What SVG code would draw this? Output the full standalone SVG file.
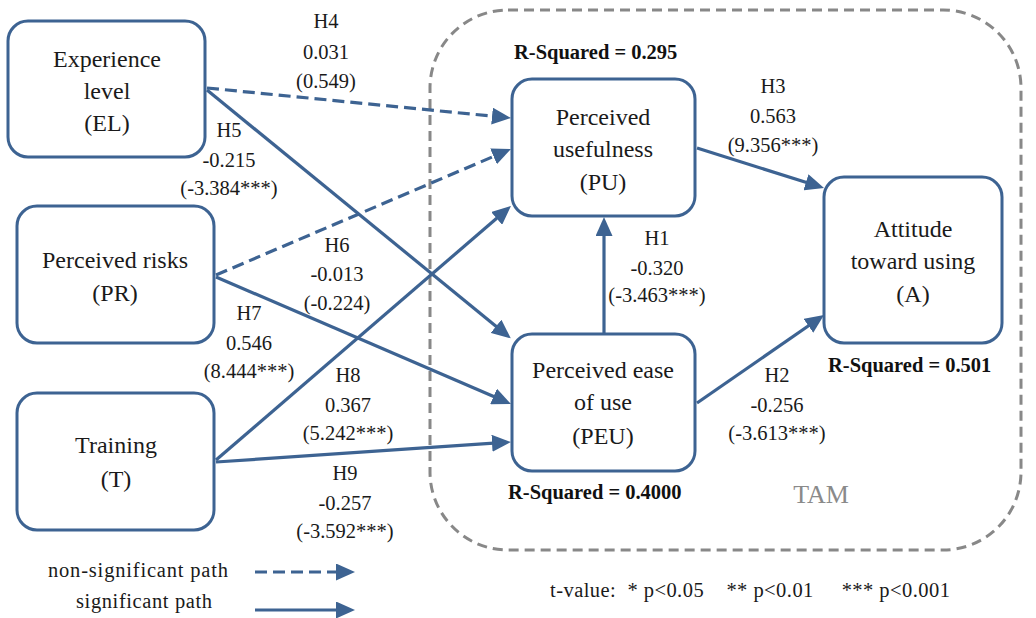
<svg xmlns="http://www.w3.org/2000/svg" width="1036" height="618" viewBox="0 0 1036 618">
<style>
text{font-family:"Liberation Serif","Times New Roman",Times,"DejaVu Serif",serif}
.box{fill:#fff;stroke:#3d6392;stroke-width:3}
.bt{font-size:24px;fill:#1a1a1a;text-anchor:middle}
.lb{font-size:20.5px;fill:#1a1a1a;text-anchor:middle}
.rs{font-size:20.5px;font-weight:bold;fill:#111}
.ln{fill:none;stroke:#3d6392;stroke-width:3.2;marker-end:url(#ah)}
.dash{stroke-dasharray:12 6}
</style>
<defs>
<marker id="ah" markerUnits="userSpaceOnUse" markerWidth="19" markerHeight="17" viewBox="0 0 19 17" refX="9" refY="8.5" orient="auto">
<path d="M0,0 L19,8.5 L0,17 Z" fill="#3d6392"/>
</marker>
</defs>
<rect x="430" y="10" width="591" height="540" rx="78" fill="none" stroke="#888" stroke-width="3" stroke-dasharray="10 6"/>
<text x="821" y="503" font-size="26" fill="#8a8a8a" text-anchor="middle">TAM</text>
<g id="connectors">
<path class="ln dash" d="M207,88 L501,117"/>
<path class="ln" d="M207,90 L503,332"/>
<path class="ln dash" d="M216,275 L501.8,152.9"/>
<path class="ln" d="M216,277 L501.8,400"/>
<path class="ln" d="M216,460 L503.4,212.5"/>
<path class="ln" d="M216,462 L501,442.7"/>
<path class="ln" d="M604,333 L604,227"/>
<path class="ln" d="M697,148 L814.5,185"/>
<path class="ln" d="M697,403 L815.8,320.7"/>
<path class="ln dash" d="M255,572 L345,572"/>
<path class="ln" d="M255,610 L345,610"/>
</g>
<g id="labels">
<text class="lb" x="326" y="28">H4</text><text class="lb" x="326" y="59">0.031</text><text class="lb" x="326" y="88">(0.549)</text>
<text class="lb" x="229" y="137">H5</text><text class="lb" x="229" y="167">-0.215</text><text class="lb" x="229" y="195">(-3.384***)</text>
<text class="lb" x="337" y="252">H6</text><text class="lb" x="337" y="281">-0.013</text><text class="lb" x="337" y="310">(-0.224)</text>
<text class="lb" x="249" y="320">H7</text><text class="lb" x="249" y="350">0.546</text><text class="lb" x="249" y="378">(8.444***)</text>
<text class="lb" x="348" y="382">H8</text><text class="lb" x="348" y="412">0.367</text><text class="lb" x="348" y="440">(5.242***)</text>
<text class="lb" x="345" y="480">H9</text><text class="lb" x="345" y="510">-0.257</text><text class="lb" x="345" y="538">(-3.592***)</text>
<text class="lb" x="773" y="93">H3</text><text class="lb" x="773" y="123">0.563</text><text class="lb" x="773" y="152">(9.356***)</text>
<text class="lb" x="657" y="245">H1</text><text class="lb" x="657" y="275">-0.320</text><text class="lb" x="657" y="302">(-3.463***)</text>
<text class="lb" x="777" y="382">H2</text><text class="lb" x="777" y="412">-0.256</text><text class="lb" x="777" y="440">(-3.613***)</text>
<text class="rs" x="514" y="59">R-Squared = 0.295</text>
<text class="rs" x="828" y="372">R-Squared = 0.501</text>
<text class="rs" x="508" y="499">R-Squared = 0.4000</text>
<text class="lb" x="48" y="577" style="text-anchor:start" textLength="180" lengthAdjust="spacing">non-significant path</text>
<text class="lb" x="76" y="608" style="text-anchor:start" textLength="136" lengthAdjust="spacing">significant path</text>
<text class="lb" x="550" y="597" style="text-anchor:start" xml:space="preserve" textLength="400" lengthAdjust="spacing">t-value:  * p&lt;0.05    ** p&lt;0.01     *** p&lt;0.001</text>
</g>
<g id="node-EL">
<rect class="box" x="8" y="21" width="197" height="136" rx="20"/>
<text class="bt" x="107" y="67">Experience</text><text class="bt" x="107" y="99">level</text><text class="bt" x="107" y="131">(EL)</text>
</g>
<g id="node-PR">
<rect class="box" x="17" y="206" width="197" height="137" rx="20"/>
<text class="bt" x="115" y="268">Perceived risks</text><text class="bt" x="115" y="301">(PR)</text>
</g>
<g id="node-T">
<rect class="box" x="17" y="393" width="197" height="137" rx="20"/>
<text class="bt" x="116" y="453">Training</text><text class="bt" x="116" y="487">(T)</text>
</g>
<g id="node-PU">
<rect class="box" x="512" y="79" width="183" height="137" rx="20"/>
<text class="bt" x="603" y="125">Perceived</text><text class="bt" x="603" y="157">usefulness</text><text class="bt" x="603" y="190">(PU)</text>
</g>
<g id="node-PEU">
<rect class="box" x="512" y="334" width="183" height="137" rx="20"/>
<text class="bt" x="603" y="378">Perceived ease</text><text class="bt" x="603" y="410">of use</text><text class="bt" x="603" y="444">(PEU)</text>
</g>
<g id="node-A">
<rect class="box" x="824" y="177" width="178" height="166" rx="20"/>
<text class="bt" x="913" y="237">Attitude</text><text class="bt" x="913" y="269">toward using</text><text class="bt" x="913" y="302">(A)</text>
</g>
</svg>
